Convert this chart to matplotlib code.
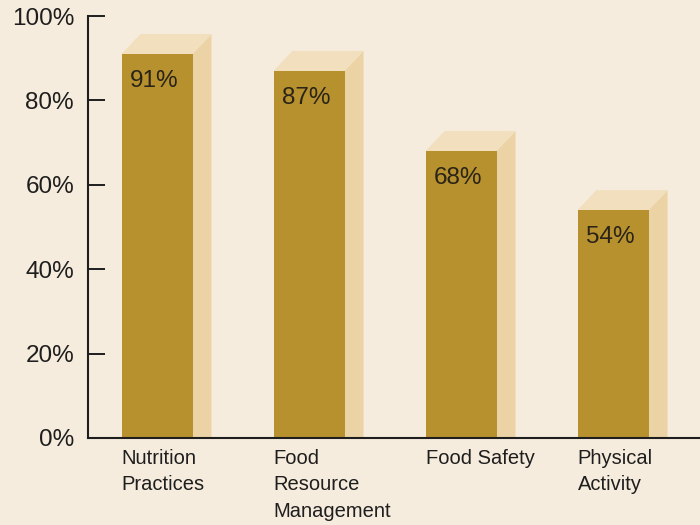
import matplotlib
matplotlib.use("Agg")
import matplotlib.pyplot as plt
from matplotlib.patches import Polygon, Rectangle

categories = ["Nutrition\nPractices", "Food\nResource\nManagement", "Food Safety", "Physical\nActivity"]
values = [91, 87, 68, 54]
value_labels = ["91%", "87%", "68%", "54%"]
yticks = [0, 20, 40, 60, 80, 100]
ytick_labels = ["0%", "20%", "40%", "60%", "80%", "100%"]

bg = "#f6ecdd"
front = "#b8912f"
side = "#ecd3a6"
top = "#f1dfbd"

plt.rcParams['font.family'] = ['Liberation Sans', 'DejaVu Sans']

fig = plt.figure(figsize=(7, 5.25), dpi=100, facecolor=bg)
ax = fig.add_axes([88/700, 87/525, 612/700, 438/525])
ax.set_facecolor(bg)

w = 0.467
dx = 0.125
dy = 4.74
for i, v in enumerate(values):
    l = i - w/2
    r = i + w/2
    ax.add_patch(Polygon([(r, 0), (r + dx, 0), (r + dx, v + dy), (r, v)],
                         closed=True, facecolor=side, edgecolor='none', zorder=1))
    ax.add_patch(Polygon([(l, v), (l + dx, v + dy), (r + dx, v + dy), (r, v)],
                         closed=True, facecolor=top, edgecolor='none', zorder=1))
    ax.add_patch(Rectangle((l, 0), w, v, facecolor=front, edgecolor='none', zorder=2))
    ax.text(l + 0.055, v - 6.4, value_labels[i], ha='left', va='center',
            fontsize=17.5, color='#2a2418', zorder=3)
    ax.text(l, -2.6, categories[i], ha='left', va='top', fontsize=14.5,
            color='#1e1e1e', linespacing=1.5, zorder=3, clip_on=False)

ax.set_xlim(-0.454, 3.572)
ax.set_ylim(0, 103.8)
ax.set_yticks(yticks)
ax.set_yticklabels(ytick_labels, fontsize=17.5, color='#1e1e1e')
ax.set_xticks([])
ax.tick_params(axis='y', direction='in', length=12.5, width=1.4, pad=10, color='#1e1e1e')
for s in ['top', 'right']:
    ax.spines[s].set_visible(False)
ax.spines['left'].set_bounds(0, 100)
ax.spines['left'].set_linewidth(1.5)
ax.spines['bottom'].set_linewidth(1.5)
ax.spines['left'].set_color('#1e1e1e')
ax.spines['bottom'].set_color('#1e1e1e')

fig.savefig("out.png", dpi=100, facecolor=bg)
